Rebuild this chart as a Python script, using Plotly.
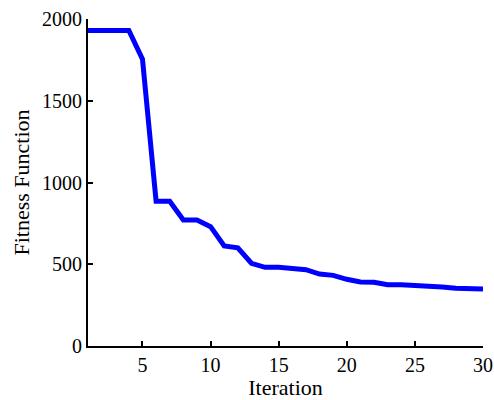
import plotly.graph_objects as go

iterations = list(range(1, 31))
fitness = [1930, 1930, 1930, 1930, 1755, 885, 885, 771, 771, 730,
           612, 600, 506, 481, 481, 477, 467, 440, 432, 408,
           392, 390, 375, 374, 372, 370, 361, 353, 349, 348]

x_ticks = [5, 10, 15, 20, 25, 30]
y_ticks = [0, 500, 1000, 1500, 2000]

fig = go.Figure()
fig.add_trace(go.Scatter(x=iterations, y=fitness, mode="lines",
                         line=dict(color="#0000FF", width=5)))

font = dict(family="Liberation Serif, Times New Roman, serif", size=20, color="#000000")
fig.update_layout(
    width=494, height=400,
    margin=dict(l=88, r=11, t=19, b=54),
    paper_bgcolor="white", plot_bgcolor="white",
    showlegend=False,
    font=font,
    xaxis=dict(range=[1, 30], tickvals=x_ticks, ticks="inside", ticklen=5, tickwidth=2,
               tickcolor="black", showline=True, linecolor="black", linewidth=2,
               showgrid=False, zeroline=False, automargin=False,
               title=dict(text="Iteration", font=dict(size=22), standoff=2)),
    yaxis=dict(range=[0, 2000], tickvals=y_ticks, ticks="inside", ticklen=5, tickwidth=2,
               tickcolor="black", showline=True, linecolor="black", linewidth=2,
               showgrid=False, zeroline=False, automargin=False,
               title=dict(text="Fitness Function", font=dict(size=22), standoff=6)),
)
fig.write_html("out.html")
